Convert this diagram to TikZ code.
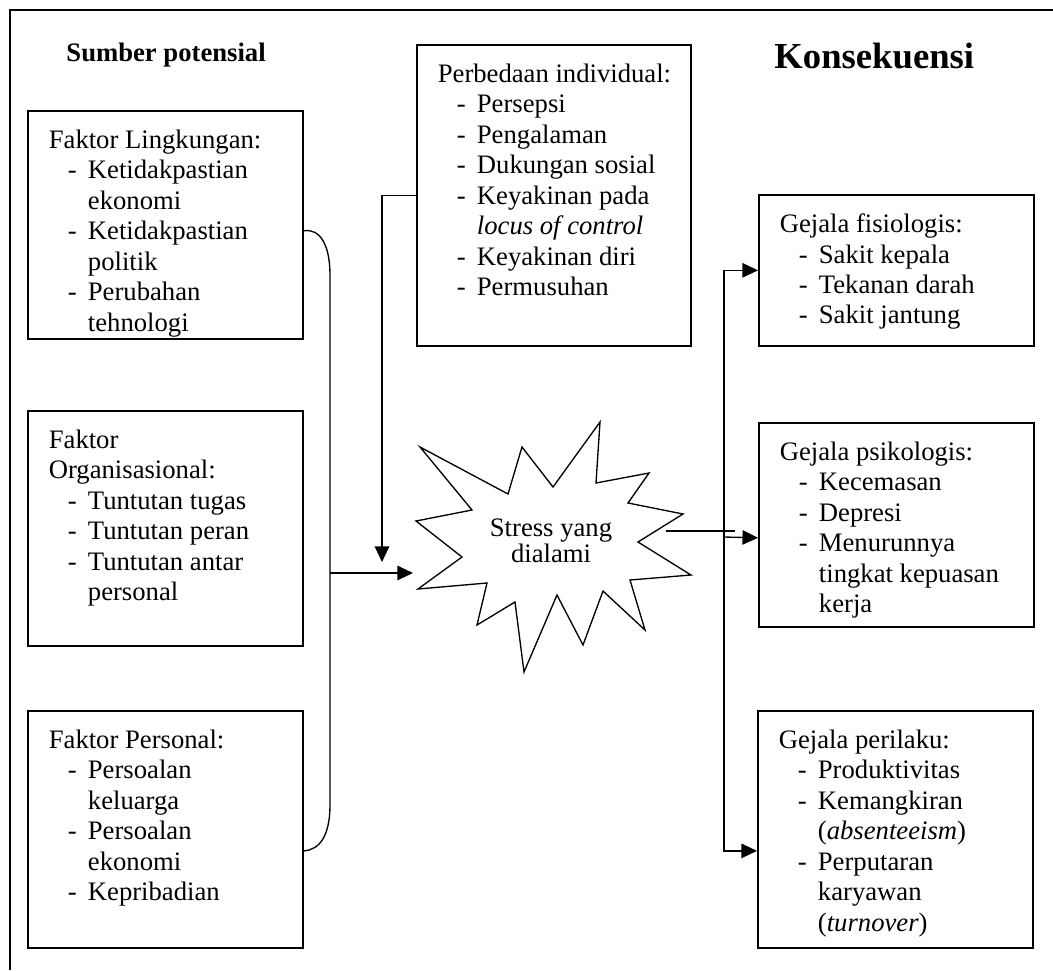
\documentclass[tikz,border=0pt]{standalone}
\usepackage{fontspec}
\setmainfont{Liberation Serif}[ItalicFont={Liberation Serif Italic}, BoldFont={Liberation Serif Bold}]
\usetikzlibrary{arrows.meta}

\newcommand{\hurufisi}{\fontsize{12}{13.7}\selectfont}
\newcommand{\butir}[1]{\par\hangindent=17.6pt\hangafter=1\hspace*{8.6pt}\makebox[9pt][l]{-}#1}
\newcommand{\isikotak}[3]{\parbox[t][\dimexpr 0.45pt*#2\relax][t]{\dimexpr 0.45pt*#1\relax}{\raggedright\leftskip=9.45pt\let\\\newline #3}}

\begin{document}
\begin{tikzpicture}[x=0.45pt, y=-0.45pt]
    \tikzset{%
      kotak/.style={draw, line width=0.75pt, anchor=north west, inner xsep=0pt, inner ysep=8.55pt, font=\hurufisi},
      judul/.style={anchor=base west, inner sep=0pt},
      garis/.style={line width=0.6pt},
      panah/.style={garis, -{Triangle[length=7pt, width=6.5pt]}}
      }
    \useasboundingbox (0,0) rectangle (1053,970);
    \draw[garis] (1053,10) -- (10,10) -- (10,970);

    \node[judul, font=\fontsize{12}{14}\selectfont\bfseries] (sumber) at (66,61) {Sumber potensial};
    \node[judul, font=\fontsize{16.5}{20}\selectfont\bfseries] (konsekuensi) at (774,68) {Konsekuensi};

    \node[kotak] (fl) at (27,110) {\isikotak{275}{190}{Faktor Lingkungan:
      \butir{Ketidakpastian\\ekonomi}
      \butir{Ketidakpastian\\politik}
      \butir{Perubahan\\tehnologi}}};
    \node[kotak] (fo) at (27,410) {\isikotak{275}{197}{Faktor\\Organisasional:
      \butir{Tuntutan tugas}
      \butir{Tuntutan peran}
      \butir{Tuntutan antar\\personal}}};
    \node[kotak] (fp) at (27,710) {\isikotak{275}{199}{Faktor Personal:
      \butir{Persoalan\\keluarga}
      \butir{Persoalan\\ekonomi}
      \butir{Kepribadian}}};

    \node[kotak] (pi) at (416,44) {\isikotak{274}{263}{Perbedaan individual:
      \butir{Persepsi}
      \butir{Pengalaman}
      \butir{Dukungan sosial}
      \butir{Keyakinan pada\\\textit{locus of control}}
      \butir{Keyakinan diri}
      \butir{Permusuhan}}};

    \node[kotak] (gf) at (758,194) {\isikotak{275}{113}{Gejala fisiologis:
      \butir{Sakit kepala}
      \butir{Tekanan darah}
      \butir{Sakit jantung}}};
    \node[kotak] (gp) at (758,422) {\isikotak{275}{166}{Gejala psikologis:
      \butir{Kecemasan}
      \butir{Depresi}
      \butir{Menurunnya\\tingkat kepuasan\\kerja}}};
    \node[kotak] (gb) at (757,710) {\isikotak{275}{199}{Gejala perilaku:
      \butir{Produktivitas}
      \butir{Kemangkiran\\(\textit{absenteeism})}
      \butir{Perputaran\\karyawan\\(\textit{turnover})}}};

    % bintang stress
    \draw[garis] (420,447) -- (508,494) -- (522,447) -- (553,487) -- (600,422) -- (596,483)
      -- (649,473) -- (628,503) -- (683,514) -- (638,542) -- (691,575) -- (630,580)
      -- (645,630) -- (603,591) -- (583,645) -- (557,595) -- (524,672) -- (515,602)
      -- (477,625) -- (487,583) -- (418,589) -- (462,557) -- (416,521) -- (472,510) -- cycle;
    \node[align=center, font=\fontsize{12}{11.5}\selectfont] (stres) at (551,541) {Stress yang\\dialami};

    \coordinate (cabang) at (330,573);
    \coordinate (ujungkiri) at (413,573);
    \coordinate (ujungatas) at (382,562);
    \draw[garis] ([yshift=-2.7pt]fl.east) .. controls (320,228) and (330,245) .. (330,275)
      -- (330,805) .. controls (330,835) and (320,850) .. ([yshift=-9.7pt]fp.east);
    \draw[panah] (cabang) -- (ujungkiri);
    \draw[panah] (pi.west) -| (ujungatas);

    \coordinate (keluar) at (666,531);
    \coordinate (lewat) at (735,531);
    \coordinate (batang) at (724,537);
    \draw[garis] (keluar) -- (lewat);
    \draw[panah] (batang) |- (gf.west);
    \draw[panah] (batang) -- ([yshift=-5.85pt]gp.west);
    \draw[panah] (batang) |- ([yshift=-9.7pt]gb.west);
\end{tikzpicture}
\end{document}
